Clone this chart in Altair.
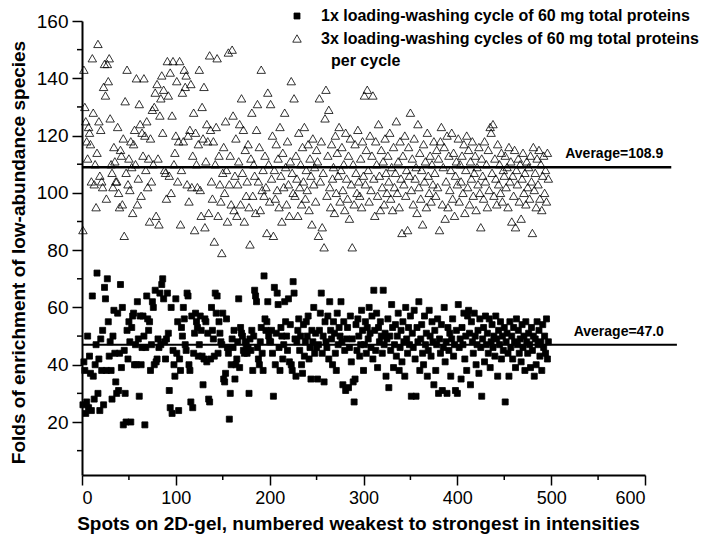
import altair as alt
import pandas as pd

# ---------------- data ----------------
SERIES_A = "1x loading-washing cycle of 60 mg total proteins"
SERIES_B = "3x loading-washing cycles of 60 mg total proteins"
EXTRA_B = "per cycle"

squares = [
    26, 41, 38, 23, 27, 50, 25, 43, 37, 24, 64, 36, 28, 40, 47, 72, 30, 42, 24, 49, 38, 52, 26, 67, 63,
    38, 70, 55, 43, 48, 38, 28, 50, 59, 44, 34, 30, 58, 31, 44, 68, 39, 60, 19, 45, 30, 20, 52, 42, 55,
    48, 20, 53, 57, 58, 40, 47, 40, 62, 49, 29, 57, 40, 46, 57, 50, 19, 46, 64, 56, 52, 55, 38, 47, 62,
    60, 40, 66, 41, 42, 49, 46, 65, 47, 68, 70, 63, 48, 42, 49, 65, 51, 31, 25, 60, 23, 45, 40, 36, 63,
    44, 55, 24, 42, 38, 53, 50, 60, 56, 47, 45, 65, 64, 40, 38, 27, 57, 25, 44, 51, 58, 55, 53, 43, 47,
    57, 52, 43, 33, 42, 56, 55, 41, 51, 28, 27, 42, 60, 52, 49, 43, 65, 58, 64, 44, 55, 51, 48, 47, 58,
    35, 34, 37, 56, 46, 44, 21, 30, 40, 49, 46, 52, 35, 40, 42, 48, 63, 39, 53, 51, 50, 45, 44, 48, 47,
    44, 46, 30, 49, 45, 52, 38, 50, 66, 64, 62, 46, 42, 40, 48, 53, 44, 38, 71, 56, 52, 55, 62, 50, 48,
    48, 52, 44, 29, 67, 40, 51, 65, 61, 46, 38, 53, 50, 42, 47, 62, 55, 50, 45, 63, 41, 54, 40, 38, 69,
    65, 49, 36, 48, 52, 56, 45, 50, 40, 37, 54, 43, 48, 55, 50, 57, 42, 46, 35, 52, 48, 60, 44, 51, 46,
    35, 47, 52, 58, 65, 44, 50, 34, 55, 48, 46, 57, 42, 62, 52, 49, 40, 55, 51, 44, 38, 58, 47, 53, 50,
    62, 48, 33, 55, 45, 31, 49, 53, 32, 46, 57, 41, 49, 34, 27, 35, 54, 45, 56, 50, 43, 47, 59, 52, 38,
    47, 55, 44, 53, 49, 60, 51, 46, 57, 42, 66, 52, 45, 58, 39, 53, 48, 55, 50, 44, 66, 47, 51, 36, 49,
    56, 32, 50, 45, 61, 53, 39, 47, 54, 43, 50, 58, 38, 46, 52, 41, 55, 48, 36, 60, 49, 44, 53, 47, 57,
    29, 51, 46, 59, 42, 29, 53, 48, 62, 38, 49, 54, 44, 40, 57, 47, 51, 36, 45, 59, 50, 43, 55, 48, 33,
    52, 38, 47, 56, 30, 49, 44, 54, 31, 46, 60, 41, 48, 30, 53, 45, 51, 36, 49, 56, 43, 47, 31, 52, 30,
    61, 46, 49, 35, 53, 47, 58, 42, 50, 38, 57, 59, 51, 33, 55, 48, 44, 58, 50, 40, 47, 52, 37, 56, 46,
    29, 49, 53, 41, 57, 47, 51, 44, 56, 39, 48, 54, 46, 50, 43, 57, 49, 36, 52, 47, 55, 42, 50, 45, 53,
    27, 48, 51, 44, 36, 55, 46, 50, 42, 53, 48, 39, 56, 47, 52, 44, 49, 41, 54, 46, 50, 38, 55, 48, 44,
    51, 47, 39, 53, 45, 50, 36, 49, 40, 55, 47, 52, 43, 48, 38, 54, 46, 50, 44, 56, 42, 48,
]

triangles = [
    87, 143, 130, 125, 118, 112, 123, 121, 117, 104, 147, 128, 103, 110, 95, 114, 152, 125, 106, 122, 104, 102, 137, 145, 134,
    98, 145, 139, 147, 126, 110, 107, 102, 116, 111, 104, 104, 123, 100, 95, 115, 113, 96, 119, 85, 132, 107, 143, 103, 112,
    101, 118, 109, 93, 117, 122, 110, 140, 96, 105, 131, 124, 99, 121, 113, 140, 120, 108, 125, 102, 112, 90, 119, 104, 129,
    110, 130, 135, 92, 138, 112, 89, 127, 133, 141, 121, 136, 108, 107, 98, 146, 134, 106, 142, 100, 127, 146, 110, 114, 120,
    139, 104, 118, 146, 89, 108, 135, 118, 143, 137, 141, 103, 120, 97, 122, 138, 102, 113, 128, 87, 121, 110, 102, 117, 143,
    101, 92, 130, 119, 137, 88, 111, 124, 118, 93, 148, 122, 104, 98, 118, 83, 110, 123, 147, 92, 113, 103, 97, 79, 107,
    116, 100, 125, 108, 90, 149, 103, 113, 96, 150, 127, 94, 106, 119, 92, 103, 111, 124, 96, 133, 107, 122, 90, 115, 99,
    104, 117, 95, 82, 112, 128, 99, 110, 106, 93, 122, 131, 104, 116, 94, 143, 101, 108, 99, 113, 102, 86, 135, 110, 97,
    131, 105, 120, 85, 108, 98, 117, 101, 112, 95, 123, 106, 90, 114, 102, 128, 109, 96, 118, 103, 92, 111, 139, 107, 100,
    133, 99, 113, 105, 92, 121, 102, 110, 96, 116, 104, 123, 98, 108, 101, 117, 94, 112, 106, 89, 119, 103, 109, 97, 115,
    111, 85, 133, 104, 118, 88, 107, 81, 126, 136, 99, 113, 129, 102, 95, 117, 105, 109, 93, 120, 100, 114, 106, 123, 97,
    108, 116, 101, 110, 94, 121, 105, 98, 113, 91, 119, 103, 81, 110, 96, 117, 107, 100, 122, 104, 99, 112, 95, 118, 106,
    134, 103, 115, 136, 108, 97, 120, 101, 113, 134, 105, 92, 118, 110, 99, 124, 106, 94, 115, 102, 111, 96, 119, 107, 100,
    113, 104, 121, 98, 109, 94, 116, 102, 107, 125, 100, 111, 95, 118, 105, 86, 113, 103, 120, 99, 108, 87, 116, 106, 128,
    101, 112, 96, 119, 105, 109, 93, 124, 102, 114, 98, 108, 89, 117, 104, 111, 95, 121, 106, 100, 113, 97, 110, 103, 118,
    107, 99, 115, 102, 112, 87, 118, 123, 96, 109, 116, 91, 104, 120, 95, 113, 101, 108, 121, 98, 114, 92, 106, 111, 103,
    119, 97, 110, 104, 113, 100, 117, 93, 108, 120, 102, 115, 96, 111, 105, 118, 99, 107, 113, 94, 109, 103, 116, 100, 88,
    112, 106, 98, 118, 104, 110, 95, 115, 101, 123, 121, 107, 124, 99, 112, 105, 96, 117, 103, 110, 100, 114, 97, 108, 106,
    113, 102, 109, 95, 116, 104, 111, 90, 106, 99, 115, 88, 108, 103, 112, 97, 110, 91, 105, 114, 100, 107, 96, 111, 102,
    109, 98, 113, 104, 86, 116, 101, 107, 95, 112, 103, 115, 98, 110, 94, 106, 113, 100, 108, 97, 114, 105,
]

AVG_A = 47.0
AVG_B = 108.9
AVG_A_END = 634
AVG_B_END = 628
AVG_A_LABEL_X = 524
AVG_B_LABEL_X = 515

X_MAJOR = [0, 100, 200, 300, 400, 500, 600]
X_MINOR = [50, 150, 250, 350, 450, 550]
Y_MAJOR = [20, 40, 60, 80, 100, 120, 140, 160]
Y_MINOR = [10, 30, 50, 70, 90, 110, 130, 150]

X_TITLE = "Spots on 2D-gel, numbered weakest to strongest in intensities"
Y_TITLE = "Folds of enrichment of low-abundance species"

# ---------------- tables ----------------
rows = []
for i, v in enumerate(squares):
    rows.append({"spot": i + 1, "value": v, "series": SERIES_A})
for i, v in enumerate(triangles):
    rows.append({"spot": i + 1, "value": v, "series": SERIES_B})
df = pd.DataFrame(rows)

FONT = "Liberation Sans"
W, H = 563, 454
DOMAIN = [SERIES_A, SERIES_B]

xscale = alt.Scale(domain=[0, 600], nice=False, zero=False)
yscale = alt.Scale(domain=[1.5, 160], nice=False, zero=False)
no_title = alt.Legend(title=None)

points = alt.Chart(df).mark_point(
    strokeWidth=0.8, opacity=1, fillOpacity=1, strokeOpacity=1
).encode(
    x=alt.X("spot:Q", scale=xscale,
            axis=alt.Axis(values=X_MAJOR, title=X_TITLE, titleX=276, titleY=48,
                          titleBaseline="middle", titleAlign="center",
                          labelFontSize=18)),
    y=alt.Y("value:Q", scale=yscale,
            axis=alt.Axis(values=Y_MAJOR, title=Y_TITLE, titleX=-64, titleY=231,
                          titleAngle=-90, titleBaseline="middle", titleAlign="center",
                          labelFontSize=19)),
    shape=alt.Shape("series:N", scale=alt.Scale(domain=DOMAIN,
                                                range=["square", "triangle-up"]),
                    legend=no_title),
    fill=alt.Fill("series:N", scale=alt.Scale(domain=DOMAIN,
                                              range=["black", "transparent"]),
                  legend=no_title),
    stroke=alt.Stroke("series:N", scale=alt.Scale(domain=DOMAIN,
                                                  range=["black", "black"]),
                      legend=no_title),
    size=alt.Size("series:N", scale=alt.Scale(domain=DOMAIN, range=[36, 72]),
                  legend=no_title),
)

xminor = alt.Chart(pd.DataFrame({"spot": X_MINOR})).mark_rule(
    color="black", strokeWidth=1.5
).encode(x=alt.X("spot:Q", scale=xscale), y=alt.value(H), y2=alt.value(H + 5))

yminor = alt.Chart(pd.DataFrame({"value": Y_MINOR})).mark_rule(
    color="black", strokeWidth=1.5
).encode(y=alt.Y("value:Q", scale=yscale), x=alt.value(0), x2=alt.value(-5))

avg_df = pd.DataFrame({
    "spot": [0, 0],
    "spot2": [AVG_A_END, AVG_B_END],
    "value": [AVG_A, AVG_B],
    "lx": [AVG_A_LABEL_X, AVG_B_LABEL_X],
    "label": [f"Average={AVG_A:.1f}", f"Average={AVG_B:.1f}"],
    "w": [2, 2.5],
})

avg_lines = alt.Chart(avg_df).mark_rule(color="black").encode(
    x=alt.X("spot:Q", scale=xscale), x2="spot2:Q",
    y=alt.Y("value:Q", scale=yscale),
    strokeWidth=alt.StrokeWidth("w:Q", scale=None, legend=None),
)

avg_text = alt.Chart(avg_df).mark_text(
    align="left", baseline="middle", dy=-13, font=FONT, fontSize=14,
    fontWeight="bold", color="black"
).encode(
    x=alt.X("lx:Q", scale=xscale), y=alt.Y("value:Q", scale=yscale), text="label:N"
)

extra = alt.Chart(pd.DataFrame({"t": [EXTRA_B]})).mark_text(
    align="left", baseline="middle", font=FONT, fontSize=16, fontWeight="bold",
    color="black"
).encode(x=alt.value(249), y=alt.value(40), text="t:N")

chart = alt.layer(points, xminor, yminor, avg_lines, avg_text, extra).properties(
    width=W, height=H,
    padding={"left": 74, "top": 13, "right": 61, "bottom": 61},
    autosize=alt.AutoSizeParams(type="none"),
).configure_view(stroke=None).configure_axis(
    domainColor="black", domainWidth=2, tickColor="black", tickWidth=1.5,
    tickSize=10, labelFont=FONT, labelColor="black",
    labelPadding=4, titleFont=FONT, titleFontSize=19, titleFontWeight="bold",
    titleColor="black", grid=False,
).configure_legend(
    orient="none", legendX=207, legendY=-13, padding=0, labelFont=FONT,
    labelFontSize=16, labelFontWeight="bold", labelColor="black", labelLimit=0,
    labelOffset=16, rowPadding=6.5, symbolStrokeWidth=0.8,
)

chart.save("out.html", embed_options={"renderer": "svg", "actions": False})
